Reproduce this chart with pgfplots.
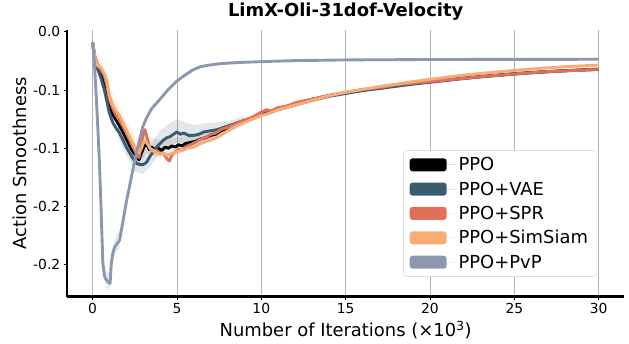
\documentclass[border=0pt]{standalone}
\usepackage{fontspec}
\setmainfont{DejaVu Sans}
\usepackage{pgfplots}
\pgfplotsset{compat=1.18}
\definecolor{cvae}{HTML}{3B5B6F}
\definecolor{cspr}{HTML}{E0705A}
\definecolor{csim}{HTML}{F8AD77}
\definecolor{cpvp}{HTML}{8D98B0}
\begin{document}
\begin{tikzpicture}
\begin{axis}[name=ax, scale only axis, width=557bp, height=266.7bp,
  xmin=-1.5, xmax=31.5, ymin=-0.2273, ymax=0.0015,
  axis x line*=bottom, axis y line*=left,
  axis line style={line width=2.2bp},
  xtick={0,5,...,30},
  ytick={0,-0.05,-0.1,-0.15,-0.2}, yticklabels={0.0,-0.1,-0.1,-0.2,-0.2},
  xmajorgrids, grid style={line width=0.8bp, color=black!30},
  tick align=outside, major tick length=3.5bp, tick style={black, line width=0.8bp},
  ticklabel style={font=\fontsize{13.9}{16}\selectfont},
  /pgf/number format/assume math mode=true,
  label style={font=\fontsize{18}{21}\selectfont},
  xlabel={Number of Iterations (×10\textsuperscript{3})},
  ylabel={Action Smoothness},
  title={LimX-Oli-31dof-Velocity},
  title style={font=\bfseries\fontsize{18}{21}\selectfont},
  legend style={at={(0.95,0.074)}, anchor=south east, draw=black!20, rounded corners=3bp,
    fill=white, font=\fontsize{18}{21}\selectfont, row sep=5.5bp, inner xsep=6bp, inner ysep=5bp},
  legend cell align=left,
  legend image code/.code={\path[#1, draw=none, line width=0pt] (0bp,-6.5bp) rectangle (37bp,6.5bp); \path[draw=none] (37bp,0bp) -- (47bp,0bp);},
  every axis plot/.append style={line width=2.9bp, line join=round},
]
% bands
\addplot[fill=cvae, fill opacity=0.15, draw=none, forget plot] coordinates {
(1.5,-0.080) (2.0,-0.093) (2.5,-0.103) (3.0,-0.104) (3.5,-0.096) (4.0,-0.085) (4.5,-0.079) (5.0,-0.075) (5.5,-0.078) (6.0,-0.080) (7.0,-0.078) (8.0,-0.077) (9.0,-0.072)
(9.0,-0.080) (8.0,-0.087) (7.0,-0.092) (6.0,-0.097) (5.5,-0.096) (5.0,-0.095) (4.5,-0.098) (4.0,-0.104) (3.5,-0.114) (3.0,-0.122) (2.5,-0.120) (2.0,-0.106) (1.5,-0.090)} -- cycle;
\addplot[fill=black, fill opacity=0.08, draw=none, forget plot] coordinates {
(1.0,-0.060) (2.0,-0.086) (2.7,-0.100) (3.2,-0.090) (4.0,-0.093) (5.0,-0.091) (6.0,-0.089) (7.0,-0.085) (8.0,-0.080)
(8.0,-0.086) (7.0,-0.093) (6.0,-0.099) (5.0,-0.105) (4.0,-0.108) (3.2,-0.104) (2.7,-0.116) (2.0,-0.098) (1.0,-0.068)} -- cycle;
\addplot[fill=csim, fill opacity=0.15, draw=none, forget plot] coordinates {
(0.2,-0.020) (0.6,-0.028) (1.0,-0.048) (1.6,-0.064) (2.2,-0.082) (2.7,-0.094) (3.2,-0.086)
(3.2,-0.104) (2.7,-0.114) (2.2,-0.100) (1.6,-0.082) (1.0,-0.064) (0.6,-0.040) (0.2,-0.028)} -- cycle;
\addplot[fill=cpvp, fill opacity=0.2, draw=none, forget plot] coordinates {
(0.6,-0.190) (0.8,-0.205) (1.0,-0.208) (1.3,-0.178) (1.6,-0.170)
(1.6,-0.186) (1.3,-0.192) (1.0,-0.222) (0.8,-0.220) (0.6,-0.206)} -- cycle;
% PPO
\addplot[black, forget plot] coordinates {
(0,-0.009) (0.15,-0.024) (0.3,-0.030) (0.5,-0.036) (0.7,-0.044) (0.85,-0.052) (1.0,-0.064) (1.2,-0.071) (1.4,-0.076) (1.6,-0.081) (1.8,-0.086) (2.0,-0.092) (2.2,-0.098) (2.4,-0.103) (2.6,-0.107) (2.75,-0.110) (2.9,-0.104) (3.05,-0.099) (3.2,-0.096) (3.35,-0.101) (3.5,-0.099) (3.7,-0.101) (3.9,-0.100) (4.1,-0.102) (4.3,-0.099) (4.5,-0.100) (4.7,-0.098) (4.9,-0.099) (5.1,-0.097) (5.3,-0.098) (5.5,-0.096) (5.8,-0.095) (6.1,-0.094) (6.4,-0.092) (6.7,-0.091) (7.0,-0.089) (7.3,-0.088) (7.6,-0.085) (8.0,-0.083) (8.5,-0.080) (9,-0.077) (9.5,-0.074) (10,-0.071) (10.5,-0.069) (11,-0.066) (11.5,-0.064) (12,-0.062) (13,-0.058) (14,-0.055) (15,-0.0525) (16,-0.050) (17,-0.0482) (18,-0.046) (19,-0.0442) (20,-0.0428) (21,-0.0412) (22,-0.0398) (23,-0.0384) (24,-0.0372) (25,-0.0360) (26,-0.0350) (27,-0.0342) (28,-0.0334) (29,-0.0328) (30,-0.0322)};
% VAE
\addplot[cvae, forget plot] coordinates {
(0,-0.009) (0.15,-0.025) (0.3,-0.032) (0.5,-0.040) (0.7,-0.050) (0.85,-0.060) (1.0,-0.070) (1.2,-0.078) (1.4,-0.083) (1.6,-0.087) (1.8,-0.093) (2.0,-0.099) (2.2,-0.104) (2.4,-0.109) (2.6,-0.113) (2.8,-0.114) (3.0,-0.114) (3.2,-0.112) (3.4,-0.107) (3.6,-0.103) (3.8,-0.099) (4.0,-0.096) (4.2,-0.093) (4.4,-0.091) (4.6,-0.090) (4.8,-0.088) (5.0,-0.086) (5.2,-0.088) (5.4,-0.087) (5.7,-0.089) (6.0,-0.089) (6.3,-0.088) (6.6,-0.086) (7.0,-0.085) (7.4,-0.084) (7.8,-0.082) (8.2,-0.080) (8.6,-0.078) (9,-0.076) (9.5,-0.074) (10,-0.071) (10.5,-0.069) (11,-0.067) (11.5,-0.065) (12,-0.063) (13,-0.059) (14,-0.0555) (15,-0.053) (16,-0.0505) (17,-0.0488) (18,-0.0468) (19,-0.0450) (20,-0.0434) (21,-0.0418) (22,-0.0402) (23,-0.0388) (24,-0.0376) (25,-0.0364) (26,-0.0353) (27,-0.0344) (28,-0.0336) (29,-0.0328) (30,-0.0322)};
% SPR
\addplot[cspr, forget plot] coordinates {
(0,-0.009) (0.15,-0.022) (0.3,-0.028) (0.5,-0.032) (0.7,-0.038) (0.85,-0.046) (1.0,-0.058) (1.2,-0.066) (1.4,-0.072) (1.6,-0.076) (1.8,-0.081) (2.0,-0.087) (2.2,-0.093) (2.4,-0.099) (2.6,-0.105) (2.75,-0.108) (2.9,-0.096) (3.0,-0.088) (3.1,-0.084) (3.25,-0.092) (3.4,-0.100) (3.6,-0.103) (3.8,-0.102) (4.0,-0.105) (4.2,-0.104) (4.4,-0.109) (4.55,-0.111) (4.7,-0.106) (4.9,-0.103) (5.1,-0.101) (5.3,-0.102) (5.5,-0.099) (5.8,-0.097) (6.1,-0.095) (6.4,-0.092) (6.7,-0.091) (7.0,-0.088) (7.3,-0.087) (7.6,-0.084) (8.0,-0.082) (8.5,-0.079) (9,-0.076) (9.5,-0.073) (10,-0.069) (10.3,-0.067) (10.6,-0.068) (11,-0.065) (11.5,-0.064) (12,-0.061) (12.6,-0.059) (13,-0.058) (14,-0.0545) (15,-0.052) (16,-0.0495) (17,-0.048) (18,-0.0455) (19,-0.0442) (20,-0.0428) (21,-0.0414) (22,-0.040) (23,-0.0386) (24,-0.0374) (25,-0.0362) (26,-0.0352) (27,-0.0342) (28,-0.0336) (29,-0.0330) (30,-0.0325)};
% SimSiam
\addplot[csim, forget plot] coordinates {
(0,-0.009) (0.15,-0.024) (0.3,-0.029) (0.5,-0.031) (0.7,-0.036) (0.85,-0.042) (1.0,-0.055) (1.2,-0.063) (1.4,-0.068) (1.6,-0.072) (1.8,-0.078) (2.0,-0.084) (2.2,-0.090) (2.4,-0.096) (2.6,-0.102) (2.75,-0.104) (2.9,-0.100) (3.05,-0.094) (3.2,-0.095) (3.4,-0.100) (3.6,-0.102) (3.8,-0.104) (4.0,-0.105) (4.2,-0.104) (4.4,-0.106) (4.6,-0.105) (4.8,-0.104) (5.0,-0.103) (5.3,-0.102) (5.6,-0.100) (6.0,-0.099) (6.4,-0.096) (6.8,-0.094) (7.2,-0.092) (7.6,-0.089) (8.0,-0.085) (8.5,-0.081) (9,-0.078) (9.5,-0.075) (10,-0.072) (10.5,-0.070) (11,-0.067) (11.5,-0.065) (12,-0.063) (13,-0.059) (14,-0.055) (15,-0.052) (16,-0.0495) (17,-0.047) (18,-0.045) (19,-0.0428) (20,-0.0408) (21,-0.0390) (22,-0.0372) (23,-0.0358) (24,-0.0345) (25,-0.0332) (26,-0.0320) (27,-0.0310) (28,-0.0300) (29,-0.0293) (30,-0.0286)};
% PvP
\addplot[cpvp, forget plot] coordinates {
(0,-0.009) (0.1,-0.025) (0.22,-0.056) (0.32,-0.085) (0.41,-0.113) (0.5,-0.150) (0.61,-0.199) (0.71,-0.210) (0.81,-0.213) (0.91,-0.2145) (1.04,-0.216) (1.10,-0.200) (1.2,-0.190) (1.3,-0.185) (1.45,-0.182) (1.6,-0.179) (1.8,-0.163) (1.99,-0.147) (2.2,-0.132) (2.38,-0.119) (2.6,-0.104) (2.8,-0.092) (2.98,-0.0815) (3.2,-0.074) (3.5,-0.066) (3.96,-0.0586) (4.4,-0.051) (4.95,-0.0429) (5.4,-0.038) (5.94,-0.0328) (6.4,-0.030) (6.92,-0.0286) (7.5,-0.0275) (8.2,-0.0268) (9,-0.0262) (10,-0.0257) (11,-0.0252) (12,-0.0248) (13,-0.0246) (14,-0.0244) (15,-0.0242) (16,-0.0241) (18,-0.0240) (20,-0.0238) (22,-0.0238) (24,-0.0237) (26,-0.0237) (28,-0.0237) (30,-0.0236)};
\addlegendimage{fill=black}\addlegendentry{PPO}
\addlegendimage{fill=cvae}\addlegendentry{PPO+VAE}
\addlegendimage{fill=cspr}\addlegendentry{PPO+SPR}
\addlegendimage{fill=csim}\addlegendentry{PPO+SimSiam}
\addlegendimage{fill=cpvp}\addlegendentry{PPO+PvP}
\end{axis}
\pgfresetboundingbox
\path ([shift={(-67.3bp,-47.3bp)}]ax.south west) rectangle ([shift={(5bp,30bp)}]ax.north east);
\end{tikzpicture}
\end{document}
